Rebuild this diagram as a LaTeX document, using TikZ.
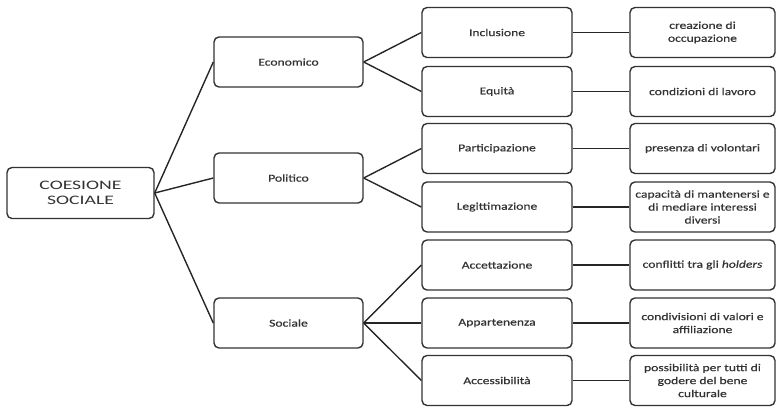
\documentclass[tikz,border=0pt]{standalone}
\usepackage{fontspec}
\setmainfont{Carlito}
\newfontfamily\smallf[FakeStretch=1.3,FakeBold=0.6]{Carlito}
\newfontfamily\rootf[FakeStretch=1.52]{Carlito}
\begin{document}
\begin{tikzpicture}[x=1bp,y=-1bp,
  box/.style={draw=black!80, line width=1.4bp, rounded corners=5bp, align=center,
    inner sep=1bp, text=black!80, minimum height=50bp,
    font=\smallf\fontsize{10.5}{13}\selectfont},
  rootbox/.style={box, minimum width=147bp, minimum height=51bp,
    font=\rootf\fontsize{13}{14.5}\selectfont},
  lone/.style={box, minimum width=149bp},
  ltwo/.style={box, minimum width=150bp},
  lthree/.style={box, minimum width=145bp},
  conn/.style={draw=black!85, line width=1.4bp}]
\useasboundingbox (0,0) rectangle (776,406);
\node[rootbox] (root) at (80.5,193) {COESIONE\\SOCIALE};
\node[lone] (eco) at (288.5,62) {Economico};
\node[lone] (pol) at (288.5,178) {Politico};
\node[lone] (soc) at (288.5,323) {Sociale};
\node[ltwo] (inc) at (497,32.5) {Inclusione};
\node[ltwo] (equ) at (497,91.5) {Equità};
\node[ltwo] (par) at (497,148.5) {Participazione};
\node[ltwo] (leg) at (497,207) {Legittimazione};
\node[ltwo] (acc) at (497,265) {Accettazione};
\node[ltwo] (app) at (497,323) {Appartenenza};
\node[ltwo] (aci) at (497,380.5) {Accessibilità};
\node[lthree] (cre) at (702.5,32.5) {creazione di\\occupazione};
\node[lthree] (con) at (702.5,91.5) {condizioni di lavoro};
\node[lthree] (pre) at (702.5,148.5) {presenza di volontari};
\node[lthree] (cap) at (702.5,207) {capacità di mantenersi e\\di mediare interessi\\diversi};
\node[lthree] (cof) at (702.5,265) {conflitti tra gli \textit{holders}};
\node[lthree] (cov) at (702.5,323) {condivisioni di valori e\\affiliazione};
\node[lthree] (pos) at (702.5,380.5) {possibilità per tutti di\\godere del bene\\culturale};
\foreach \b in {eco,pol,soc} \draw[conn] (root.east) -- (\b.west);
\foreach \b in {inc,equ} \draw[conn] (eco.east) -- (\b.west);
\foreach \b in {par,leg} \draw[conn] (pol.east) -- (\b.west);
\foreach \b in {acc,app,aci} \draw[conn] (soc.east) -- (\b.west);
\draw[conn] (inc) -- (cre);
\draw[conn] (equ) -- (con);
\draw[conn] (par) -- (pre);
\draw[conn] (leg) -- (cap);
\draw[conn] (acc) -- (cof);
\draw[conn] (app) -- (cov);
\draw[conn] (aci) -- (pos);
\end{tikzpicture}
\end{document}
